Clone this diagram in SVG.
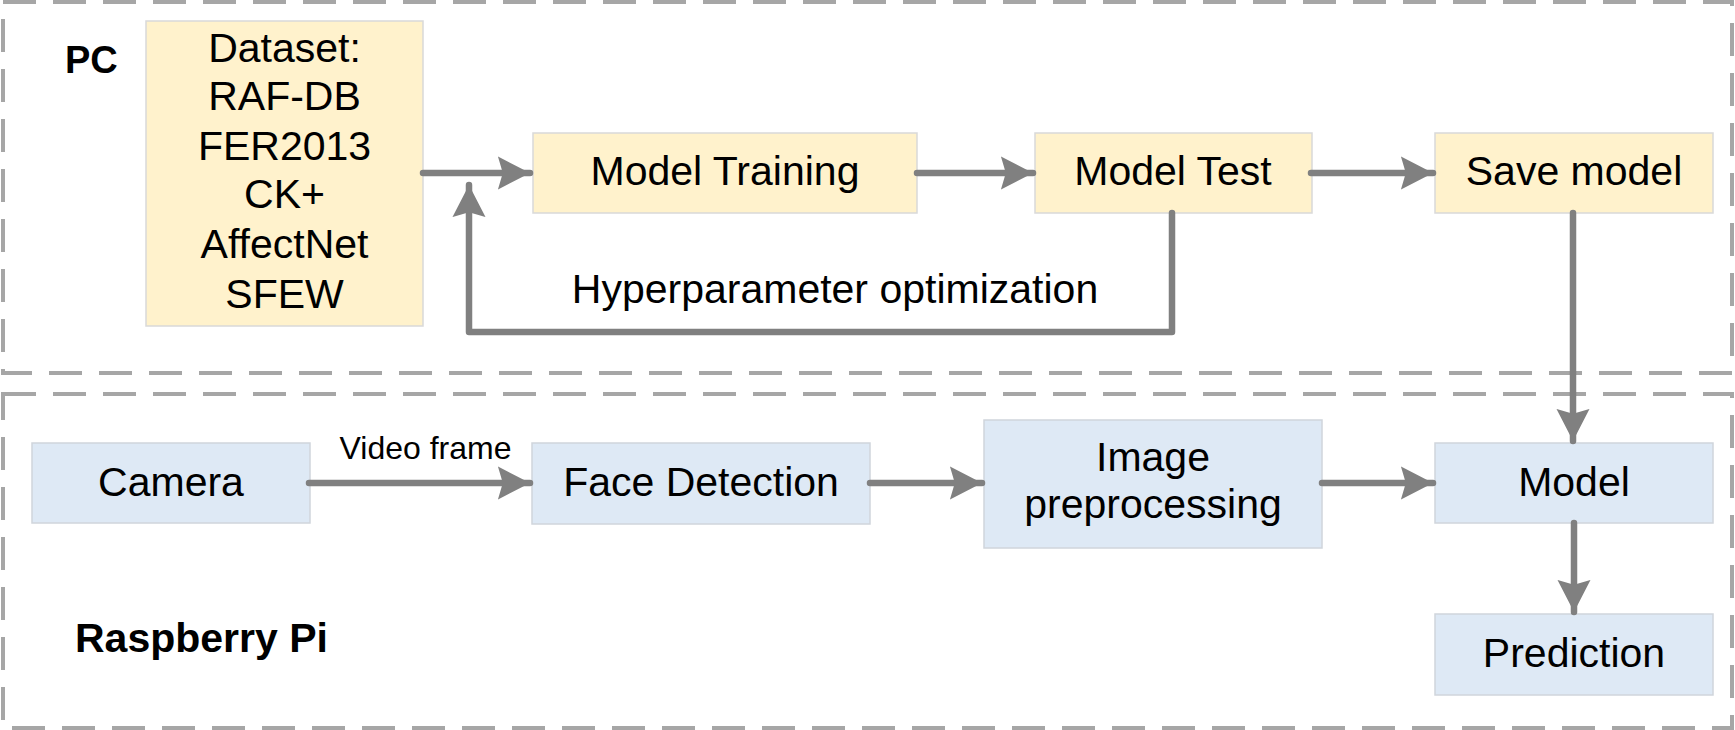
<svg xmlns="http://www.w3.org/2000/svg" width="1735" height="730" viewBox="0 0 1735 730">
<style>
.t{font-family:"Liberation Sans",Arial,sans-serif;font-size:41px;fill:#000;text-anchor:middle}
.s{font-size:32px}
.b{font-family:"Liberation Sans",Arial,sans-serif;font-weight:bold;fill:#000}
.y{fill:#fff2cc;stroke:#d9d9d9;stroke-width:1.5}
.u{fill:#dee9f5;stroke:#d0d5db;stroke-width:1.5}
.grp{fill:none;stroke:#a6a6a6;stroke-width:4;stroke-dasharray:33 17}
.c{fill:none;stroke:#808080;stroke-width:6.5;stroke-linecap:round;stroke-linejoin:round}
</style>
<defs>
<marker id="ah" markerUnits="userSpaceOnUse" markerWidth="34" markerHeight="36" viewBox="-33 -18 35 36" refX="0" refY="0" orient="auto">
<path d="M0,0 L-33,-17 L-28,0 L-33,17 Z" fill="#808080"/>
</marker>
</defs>
<rect width="1735" height="730" fill="#fff"/>
<g id="group-pc">
<rect class="grp" x="3" y="2" width="1729" height="371"/>
<text class="b" x="65" y="73" font-size="38">PC</text>
</g>
<g id="group-rpi">
<rect class="grp" x="3" y="394" width="1729" height="334"/>
<text class="b" x="75" y="652" font-size="41">Raspberry Pi</text>
</g>
<g id="dataset">
<rect class="y" x="146" y="21" width="277" height="305"/>
<text class="t" x="284.5" y="62">Dataset:</text>
<text class="t" x="284.5" y="110">RAF-DB</text>
<text class="t" x="284.5" y="160">FER2013</text>
<text class="t" x="284.5" y="208">CK+</text>
<text class="t" x="284.5" y="258">AffectNet</text>
<text class="t" x="284.5" y="308">SFEW</text>
</g>
<g id="model-training">
<rect class="y" x="533" y="133" width="384" height="80"/>
<text class="t" x="725" y="185">Model Training</text>
</g>
<g id="model-test">
<rect class="y" x="1035" y="133" width="277" height="80"/>
<text class="t" x="1173" y="185">Model Test</text>
</g>
<g id="save-model">
<rect class="y" x="1435" y="133" width="278" height="80"/>
<text class="t" x="1574" y="185">Save model</text>
</g>
<g id="camera">
<rect class="u" x="32" y="443" width="278" height="80"/>
<text class="t" x="171" y="496">Camera</text>
</g>
<g id="face-detection">
<rect class="u" x="532" y="443" width="338" height="81"/>
<text class="t" x="701" y="496">Face Detection</text>
</g>
<g id="image-preprocessing">
<rect class="u" x="984" y="420" width="338" height="128"/>
<text class="t" x="1153" y="471">Image</text>
<text class="t" x="1153" y="518">preprocessing</text>
</g>
<g id="model">
<rect class="u" x="1435" y="443" width="278" height="80"/>
<text class="t" x="1574" y="496">Model</text>
</g>
<g id="prediction">
<rect class="u" x="1435" y="614" width="278" height="81"/>
<text class="t" x="1574" y="667">Prediction</text>
</g>
<g id="connectors">
<path class="c" d="M423,173 L530,173" marker-end="url(#ah)"/>
<path class="c" d="M917,173 L1033,173" marker-end="url(#ah)"/>
<path class="c" d="M1311,173 L1433,173" marker-end="url(#ah)"/>
<path class="c" d="M1172,213 L1172,332 L469,332 L469,185" marker-end="url(#ah)"/>
<text class="t" x="835" y="303">Hyperparameter optimization</text>
<path class="c" d="M1573,213 L1573,441" marker-end="url(#ah)"/>
<path class="c" d="M309,483 L530,483" marker-end="url(#ah)"/>
<text class="t s" x="425.5" y="459">Video frame</text>
<path class="c" d="M870,483 L982,483" marker-end="url(#ah)"/>
<path class="c" d="M1322,483 L1433,483" marker-end="url(#ah)"/>
<path class="c" d="M1574,523 L1574,612" marker-end="url(#ah)"/>
</g>
</svg>
